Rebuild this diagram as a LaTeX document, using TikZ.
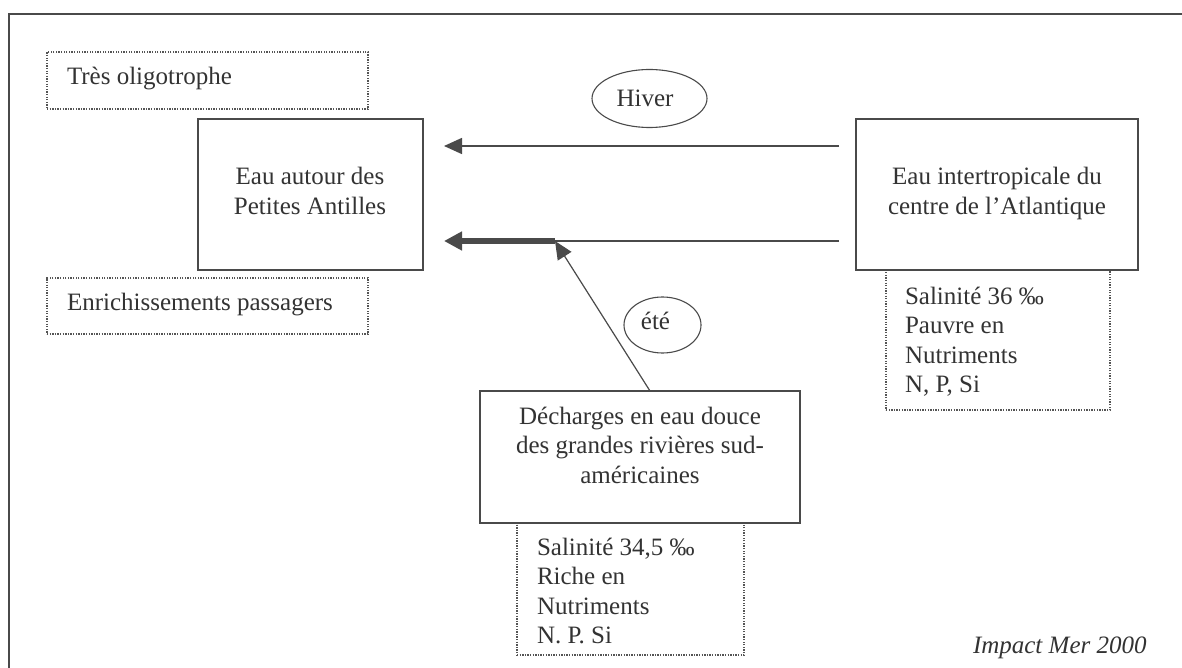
\documentclass[tikz,border=0pt]{standalone}
\usepackage{fontspec}
\setmainfont{Liberation Serif}
\usetikzlibrary{shapes.geometric,arrows.meta}
\definecolor{ink}{HTML}{333333}
\definecolor{edgec}{HTML}{4A4A4A}
\definecolor{dotc}{HTML}{555555}
\begin{document}
\begin{tikzpicture}[x=1pt,y=-1pt,
  every node/.style={inner sep=0pt, outer sep=0pt},
  solidbox/.style={draw=edgec, line width=2pt, rectangle},
  dotbox/.style={draw=dotc, line width=1.3pt, dash pattern=on 1.3pt off 1.3pt, rectangle},
  oval/.style={draw=edgec, line width=1.1pt, ellipse},
  lbl/.style={text=ink, font=\fontsize{25}{29.5}\selectfont, anchor=base},
  lblL/.style={lbl, anchor=base west},
  flow/.style={draw=edgec, line width=1.5pt},
  tip/.style={-{Triangle[length=18pt,width=16pt]}},
]
\clip (0,0) rectangle (1182,668);
\fill[white] (0,0) rectangle (1182,668);
\draw[edgec, line width=2pt] (9,14) rectangle (1200,700);

% dotted boxes
\node[dotbox, minimum width=321pt, minimum height=57pt] (tres) at (207.5,80.5) {};
\node[dotbox, minimum width=321pt, minimum height=56pt] (enri) at (207.5,306) {};
\node[dotbox, minimum width=224pt, minimum height=140pt] (salA) at (998,340) {};
\node[dotbox, minimum width=227pt, minimum height=132pt] (salD) at (630.5,589) {};

% solid boxes
\node[solidbox, minimum width=225.5pt, minimum height=151pt] (eau) at (310.25,194.5) {};
\node[solidbox, minimum width=282pt, minimum height=151pt] (atl) at (997,194.5) {};
\node[solidbox, minimum width=320pt, minimum height=132pt] (dech) at (640,457) {};

% ellipses
\node[oval, minimum width=115pt, minimum height=58pt] (hiver) at (649.5,98.5) {};
\node[oval, minimum width=77pt, minimum height=56pt] (ete) at (662.5,325) {};

% texts
\node[lblL] (tresT) at (67,85) {Très oligotrophe};
\node[lblL] (enriT) at (67,310) {Enrichissements passagers};
\node[lbl] (eauT) at (310,185) {\parbox[t]{220pt}{\centering Eau autour des\\Petites Antilles}};
\node[lbl] (atlT) at (997,185) {\parbox[t]{280pt}{\centering Eau intertropicale du\\centre de l’Atlantique}};
\node[lbl] (dechT) at (640,424) {\parbox[t]{318pt}{\centering Décharges en eau douce\\des grandes rivières sud-\\américaines}};
\node[lblL] (salAT) at (905,304) {\parbox[t]{200pt}{\raggedright Salinité 36 ‰\\Pauvre en\\Nutriments\\N, P, Si}};
\node[lblL] (salDT) at (537,555) {\parbox[t]{200pt}{\raggedright Salinité 34,5 ‰\\Riche en\\Nutriments\\N. P. Si}};
\node[lbl] (hiverT) at (645,107) {Hiver};
\node[lbl] (eteT) at (655.5,329) {été};
\node[lblL] (impact) at (973,653) {\itshape Impact Mer 2000};

% connectors
\coordinate (h1) at (839,146);
\coordinate (h2) at (444,146);
\coordinate (e1) at (839,241);
\coordinate (j) at (555,241);
\coordinate (e2) at (444,241);
\coordinate (d1) at (650,391);

\draw[flow, tip] (h1) -- (h2);
\draw[flow] (e1) -- (j);
\draw[draw=edgec, line width=6pt, -{Triangle[length=18pt,width=18pt]}] (j) -- (e2);
\draw[flow, line width=1.2pt, tip] (d1) -- (j);
\end{tikzpicture}
\end{document}
